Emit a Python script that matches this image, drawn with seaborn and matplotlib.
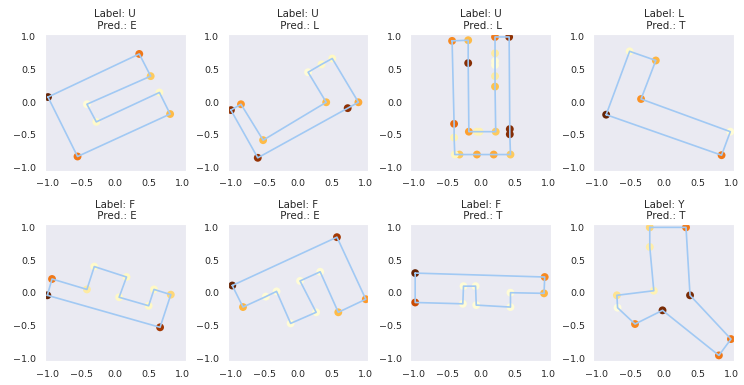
import matplotlib
matplotlib.use("Agg")
import matplotlib.pyplot as plt
import seaborn as sns
import numpy as np
import pandas as pd

labels = ["U", "U", "U", "L", "F", "F", "F", "Y"]
preds = ["E", "L", "L", "T", "E", "E", "T", "T"]

x1 = [-1.0, 0.36, 0.53, -0.42, -0.28, 0.66, 0.82, -0.56]
y1 = [0.08, 0.74, 0.40, -0.03, -0.30, 0.15, -0.18, -0.83]
v1 = [1.0, 0.6, 0.35, 0.05, 0.08, 0.1, 0.4, 0.6]

x2 = [-1.0, -0.85, -0.52, 0.42, 0.15, 0.35, 0.51, 0.90, 0.74, -0.60]
y2 = [-0.12, -0.03, -0.58, 0.0, 0.46, 0.58, 0.67, 0.0, -0.09, -0.85]
v2 = [0.9, 0.5, 0.4, 0.4, 0.05, 0.1, 0.1, 0.45, 0.9, 0.88]

x3 = [-0.43, -0.19, -0.19, -0.18, -0.06, -0.02, 0.22, 0.21, 0.21, 0.21, 0.21,
      0.21, 0.21, 0.42, 0.43, 0.43, 0.44, 0.19, -0.06, -0.32, -0.39, -0.40, -0.40]
y3 = [0.94, 0.95, 0.60, -0.45, -0.45, -0.45, -0.45, 0.24, 0.40, 0.57, 0.63,
      0.75, 1.0, 1.0, -0.41, -0.49, -0.80, -0.80, -0.80, -0.80, -0.80, -0.54, -0.33]
v3 = [0.55, 0.4, 0.92, 0.48, 0.15, 0.15, 0.35, 0.38, 0.2, 0.05, 0.05,
      0.2, 0.6, 0.9, 0.92, 0.92, 0.35, 0.45, 0.45, 0.35, 0.12, 0.15, 0.65]

x4 = [-0.86, -0.51, -0.12, -0.34, 0.99, 0.86]
y4 = [-0.19, 0.78, 0.64, 0.05, -0.45, -0.81]
v4 = [1.0, 0.08, 0.42, 0.52, 0.05, 0.6]

x5 = [-1.01, -0.94, -0.42, -0.31, 0.17, 0.06, 0.50, 0.58, 0.83, 0.67]
y5 = [-0.04, 0.21, 0.05, 0.40, 0.24, -0.07, -0.20, 0.05, -0.03, -0.53]
v5 = [1.0, 0.6, 0.2, 0.08, 0.1, 0.1, 0.1, 0.1, 0.3, 0.85]

x6 = [-0.98, -0.82, -0.48, -0.32, -0.11, 0.27, 0.03, 0.33, 0.60, 1.01, 0.58]
y6 = [0.11, -0.22, -0.06, 0.02, -0.47, -0.30, 0.18, 0.32, -0.30, -0.10, 0.85]
v6 = [1.0, 0.42, 0.05, 0.05, 0.05, 0.05, 0.05, 0.05, 0.4, 0.5, 0.85]

x7 = [-0.98, 0.95, 0.94, 0.44, 0.44, -0.07, -0.08, -0.26, -0.27, -0.98]
y7 = [0.30, 0.24, -0.01, 0.0, -0.22, -0.19, 0.10, 0.10, -0.17, -0.15]
v7 = [1.0, 0.55, 0.42, 0.05, 0.05, 0.05, 0.05, 0.05, 0.05, 0.75]

x8 = [-0.21, 0.33, 0.39, 1.0, 0.82, -0.02, -0.43, -0.69, -0.70, -0.15, -0.21]
y8 = [1.0, 1.0, -0.04, -0.71, -0.96, -0.27, -0.48, -0.23, -0.04, 0.03, 0.70]
v8 = [0.3, 0.6, 0.95, 0.6, 0.6, 0.95, 0.55, 0.03, 0.25, 0.15, 0.18]

xs = [x1, x2, x3, x4, x5, x6, x7, x8]
ys = [y1, y2, y3, y4, y5, y6, y7, y8]
vs = [v1, v2, v3, v4, v5, v6, v7, v8]

ticks = [-1.0, -0.5, 0.0, 0.5, 1.0]

sns.set_style("dark")
plt.rcParams["font.family"] = ["DejaVu Sans"]

fig, axes = plt.subplots(2, 4, figsize=(7.44, 3.85), dpi=100)
fig.subplots_adjust(left=0.06, right=0.987, top=0.9125, bottom=0.0616,
                    wspace=0.298, hspace=0.388)

for i, ax in enumerate(axes.flat):
    df = pd.DataFrame({"x": xs[i], "y": ys[i], "v": vs[i]})
    sns.scatterplot(data=df, x="x", y="y", hue="v", palette="YlOrBr",
                    hue_norm=(0, 1), s=32, linewidth=0, legend=False,
                    ax=ax, zorder=2)
    closed = pd.concat([df, df.iloc[[0]]], ignore_index=True)
    sns.lineplot(data=closed, x="x", y="y", sort=False, estimator=None,
                 color="#a1c9f4", linewidth=1.2, ax=ax, zorder=3)
    ax.set_xlim(-1.05, 1.05)
    ax.set_ylim(-1.05, 1.05)
    ax.set_xticks(ticks)
    ax.set_yticks(ticks)
    ax.tick_params(labelsize=6.8, pad=2.5, colors=".15")
    ax.set_xlabel("")
    ax.set_ylabel("")
    ax.set_title(f"Label: {labels[i]}\n Pred.: {preds[i]}", fontsize=7.4,
                 pad=3.5, color=".15")

fig.savefig("out.png", dpi=100)
